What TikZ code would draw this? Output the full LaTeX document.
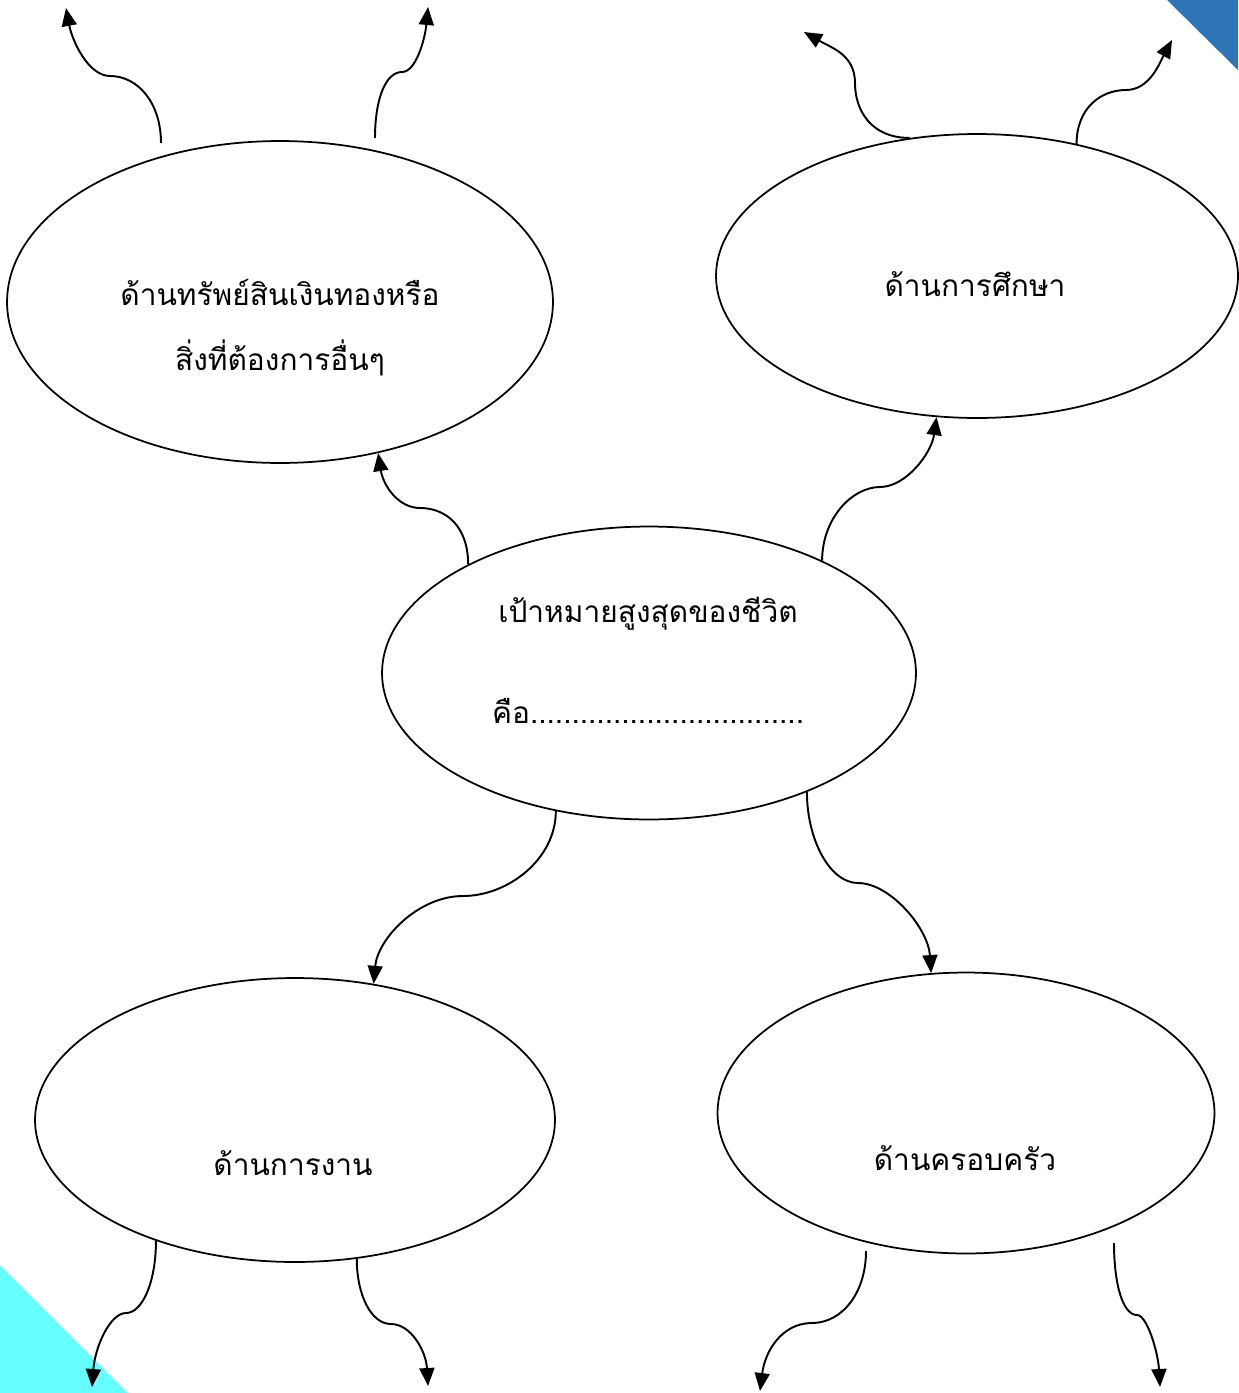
\documentclass[tikz,border=0pt]{standalone}
\usepackage{fontspec}
\newfontfamily\thai[Script=Thai]{Loma}
\usetikzlibrary{arrows.meta,shapes.geometric}
\definecolor{topblue}{HTML}{2E75B6}
\definecolor{cornercyan}{HTML}{66FFFF}
\tikzset{
  bubble/.style={draw=black, line width=1pt, ellipse, inner sep=0pt, fill=white},
  lbl/.style={font=\thai\fontsize{17}{21}\selectfont, anchor=base, inner sep=0pt},
  conn/.style={line width=1.1pt, -{Triangle[length=0.36cm,width=0.3cm]}},
}
\begin{document}
\begin{tikzpicture}[x=0.02cm,y=-0.02cm]
\useasboundingbox (0,0) rectangle (1238,1393);
% corner triangles
\fill[topblue] (1167,0) -- (1238,0) -- (1238,70) -- cycle;
\fill[cornercyan] (0,1265) -- (128,1393) -- (0,1393) -- cycle;

% ellipses
\node[bubble, minimum width=10.92cm, minimum height=6.44cm] (e1) at (280,302) {};
\node[bubble, minimum width=10.44cm, minimum height=5.68cm] (e2) at (977,276) {};
\node[bubble, minimum width=10.68cm, minimum height=5.86cm] (e3) at (649,673) {};
\node[bubble, minimum width=10.40cm, minimum height=5.68cm] (e4) at (295,1120) {};
\node[bubble, minimum width=9.94cm, minimum height=5.62cm] (e5) at (966,1113) {};

% labels
\node[lbl] (t1a) at (280,305) {ด้านทรัพย์สินเงินทองหรือ};
\node[lbl] (t1b) at (280,370) {สิ่งที่ต้องการอื่นๆ};
\node[lbl] (t2) at (975,296) {ด้านการศึกษา};
\node[lbl] (t3a) at (648,622) {เป้าหมายสูงสุดของชีวิต};
\node[lbl] (t3b) at (648,723) {คือ.................................};
\node[lbl] (t4) at (293,1175) {ด้านการงาน};
\node[lbl] (t5) at (965,1170) {ด้านครอบครัว};

% free ends
\coordinate (a0) at (161,143); \coordinate (a1) at (110,76); \coordinate (a2) at (66,8);
\coordinate (b0) at (375,138); \coordinate (b1) at (402,72); \coordinate (b2) at (428,7);
\coordinate (c1) at (855,83);  \coordinate (c2) at (804,32);
\coordinate (d1) at (1126,90); \coordinate (d2) at (1172,40);
\coordinate (f1) at (420,508);
\coordinate (g1) at (880,487);
\coordinate (h1) at (463,896);
\coordinate (k1) at (858,883);
\coordinate (i1) at (126,1313); \coordinate (i2) at (92,1387);
\coordinate (j1) at (391,1324); \coordinate (j2) at (428,1386);
\coordinate (m0) at (866,1251); \coordinate (m1) at (812,1323); \coordinate (m2) at (760,1391);
\coordinate (n0) at (1114,1243); \coordinate (n1) at (1137,1315); \coordinate (n2) at (1160,1387);

% connectors from e1
\draw[conn] (a0) .. controls +(0,-40) and +(28,0) .. (a1) .. controls +(-22,0) and +(6,32) .. (a2);
\draw[conn] (b0) .. controls +(0,-40) and +(-16,0) .. (b1) .. controls +(14,0) and +(-3,32) .. (b2);
% connectors from e2
\draw[conn] (e2.116) .. controls +(-38,0) and +(0,28) .. (c1) .. controls +(0,-28) and +(28,16) .. (c2);
\draw[conn] (e2.53) .. controls +(0,-35) and +(-26,0) .. (d1) .. controls +(24,0) and +(-12,22) .. (d2);
% connectors from centre
\draw[conn] (e3.149) .. controls +(0,-38) and +(26,0) .. (f1) .. controls +(-22,0) and +(5,32) .. (e1.-57.7);
\draw[conn] (e3.33) .. controls +(0,-42) and +(-28,0) .. (g1) .. controls +(26,0) and +(-5,36) .. (e2.-106.5);
\draw[conn] (e3.-124.6) .. controls +(0,48) and +(45,0) .. (h1) .. controls +(-45,0) and +(4,-45) .. (e4.60.5);
\draw[conn] (e3.-37.8) .. controls +(0,48) and +(-28,0) .. (k1) .. controls +(32,0) and +(-3,-45) .. (e5.104.1);
% connectors from e4
\draw[conn] (e4.221.5) .. controls +(0,42) and +(16,0) .. (i1) .. controls +(-16,0) and +(3,-40) .. (i2);
\draw[conn] (e4.-66.8) .. controls +(0,36) and +(-20,0) .. (j1) .. controls +(20,0) and +(-2,-35) .. (j2);
% connectors from e5
\draw[conn] (m0) .. controls +(0,42) and +(30,0) .. (m1) .. controls +(-30,0) and +(5,-40) .. (m2);
\draw[conn] (n0) .. controls +(0,42) and +(-14,0) .. (n1) .. controls +(10,0) and +(-2,-35) .. (n2);
\end{tikzpicture}
\end{document}
